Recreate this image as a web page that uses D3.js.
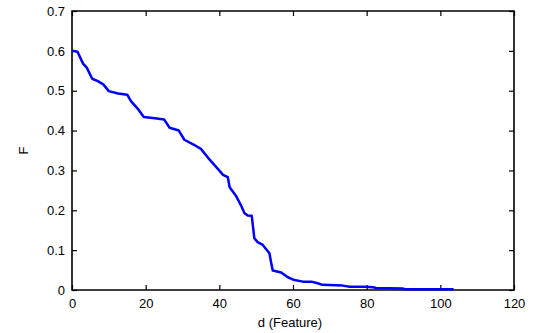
<!DOCTYPE html>
<html>
<head>
<meta charset="utf-8">
<script src="https://cdn.jsdelivr.net/npm/d3@7"></script>
<style>
  body { margin: 0; background: #fff; }
  svg text { font-family: Arial, "Liberation Sans", sans-serif; font-size: 13px; fill: #000; }
</style>
</head>
<body>
<div id="chart"></div>
<script>
// number of features d vs. F
const dVals = [0, 1.5, 3, 4, 5.5, 7, 8.5, 10, 12.5, 15, 16, 18, 19.5, 22.5, 25, 26.5, 29, 30.5, 33, 35,
  37, 39, 41, 42.3, 42.8, 44.6, 46, 46.8, 47.7, 48.8, 49.5, 50.4, 51.8, 53.6, 54.1, 54.5, 56.8, 58.6,
  60.4, 62.7, 65, 66.7, 68, 73.5, 75.4, 79.4, 81.7, 82.6, 89.8, 90.3, 103.6];
const fVals = [0.600, 0.598, 0.568, 0.558, 0.530, 0.524, 0.516, 0.499, 0.493, 0.490, 0.474, 0.453, 0.434,
  0.431, 0.428, 0.407, 0.400, 0.377, 0.365, 0.354, 0.331, 0.310, 0.289, 0.283, 0.258, 0.235, 0.210,
  0.193, 0.187, 0.186, 0.130, 0.120, 0.113, 0.092, 0.067, 0.049, 0.044, 0.032, 0.025, 0.021, 0.021,
  0.017, 0.013, 0.011, 0.008, 0.008, 0.007, 0.005, 0.004, 0.002, 0.002];
const xTicks = [0, 20, 40, 60, 80, 100, 120];
const yTicks = [0, 0.1, 0.2, 0.3, 0.4, 0.5, 0.6, 0.7];

const width = 538;
const height = 333;
const margin = { top: 11, right: 24, bottom: 43, left: 72 };

const svg = d3.select('#chart')
  .append('svg')
  .attr('width', width)
  .attr('height', height);

const x = d3.scaleLinear()
  .domain([0, 120])
  .range([margin.left, width - margin.right]);

const y = d3.scaleLinear()
  .domain([0, 0.7])
  .range([height - margin.bottom, margin.top]);

const fmt = d => d === 0 ? '0' : d3.format('.1f')(d);

// frame
svg.append('path')
  .attr('d', `M${x(0)},${y(0.7)}H${x(120)}V${y(0)}H${x(0)}Z`)
  .style('fill', 'none')
  .style('stroke', 'black')
  .style('stroke-width', '1.6px');

// bottom + top
svg.append('g')
  .attr('transform', `translate(0,${y(0)})`)
  .call(d3.axisBottom(x).tickValues(xTicks).tickSize(-5).tickPadding(9));
svg.append('g')
  .attr('transform', `translate(0,${y(0.7)})`)
  .call(d3.axisTop(x).tickValues(xTicks).tickSize(-5).tickFormat(''));

// left + right
svg.append('g')
  .attr('transform', `translate(${x(0)},0)`)
  .call(d3.axisLeft(y).tickValues(yTicks).tickFormat(fmt).tickSize(-5).tickPadding(7));
svg.append('g')
  .attr('transform', `translate(${x(120)},0)`)
  .call(d3.axisRight(y).tickValues(yTicks).tickSize(-5).tickFormat(''));

svg.selectAll('.domain').remove();
svg.selectAll('.tick line').style('stroke', 'black').style('stroke-width', '1.2px');
svg.selectAll('g').attr('font-family', null).attr('font-size', null);

const line = d3.line()
  .x((d, i) => x(dVals[i]))
  .y(d => y(d));

svg.append('path')
  .datum(fVals)
  .attr('fill', 'none')
  .attr('stroke', '#0000ff')
  .attr('stroke-width', 2.5)
  .attr('stroke-linejoin', 'round')
  .attr('d', line);

svg.append('text')
  .attr('x', (x(0) + x(120)) / 2 - 3)
  .attr('y', 327)
  .attr('text-anchor', 'middle')
  .text('d (Feature)');

svg.append('text')
  .attr('transform', `translate(28,${(y(0) + y(0.7)) / 2}) rotate(-90)`)
  .attr('text-anchor', 'middle')
  .text('F');
</script>
</body>
</html>
